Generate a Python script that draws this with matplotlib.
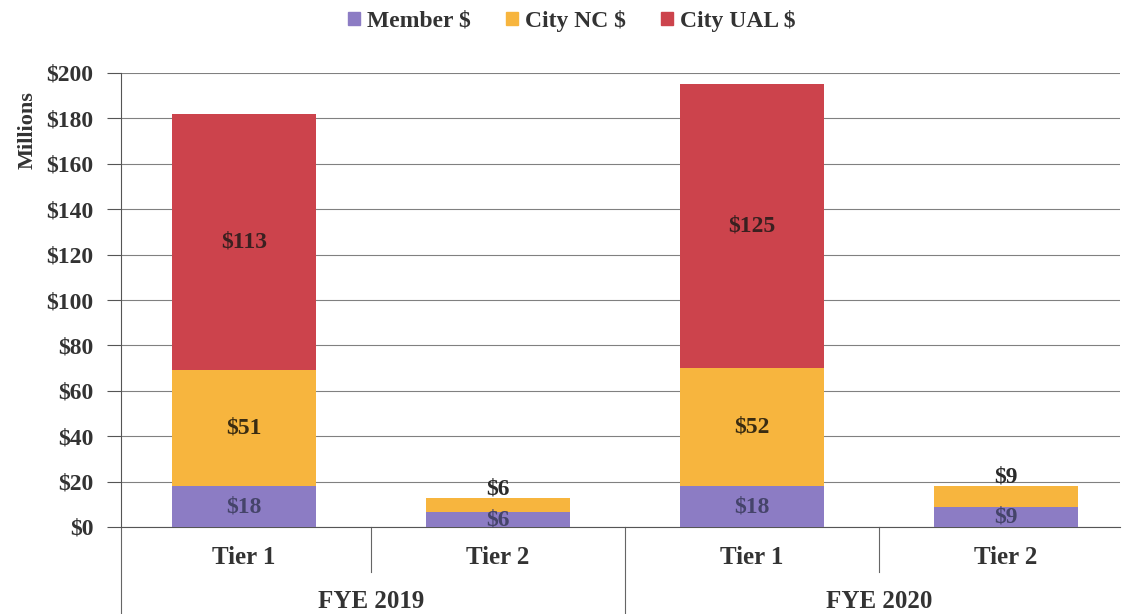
import matplotlib.pyplot as plt
import matplotlib.transforms as mtransforms
from matplotlib.patches import Patch

years = ["FYE 2019", "FYE 2020"]
tiers = ["Tier 1", "Tier 2", "Tier 1", "Tier 2"]
member = [18, 6.4, 18, 9]
city_nc = [51, 6.4, 52, 9]
city_ual = [113, 0, 125, 0]
member_lbl = ["$18", "$6", "$18", "$9"]
nc_lbl = ["$51", "$6", "$52", "$9"]
ual_lbl = ["$113", "", "$125", ""]

c_member = "#8c7cc4"
c_nc = "#f7b53e"
c_ual = "#cc434c"
txt = "#2b2b2b"

plt.rcParams["font.family"] = ["Liberation Serif", "DejaVu Serif"]
plt.rcParams["font.weight"] = "bold"

fig = plt.figure(figsize=(11.22, 6.14), dpi=100)
ax = fig.add_axes([121 / 1122, 87 / 614, (1120 - 121) / 1122, 454 / 614])

x = list(range(len(tiers)))
w = 0.567
bottom2 = [m + n for m, n in zip(member, city_nc)]
ax.bar(x, member, w, color=c_member, linewidth=0, zorder=3)
ax.bar(x, city_nc, w, bottom=member, color=c_nc, linewidth=0, zorder=3)
ax.bar(x, city_ual, w, bottom=bottom2, color=c_ual, linewidth=0, zorder=3)

for i in x:
    ax.text(i, member[i] / 2, member_lbl[i], ha="center", va="center",
            fontsize=17, fontweight="bold", color="#45446a", zorder=4)
    if city_ual[i] > 0:
        ax.text(i, member[i] + city_nc[i] / 2, nc_lbl[i], ha="center", va="center",
                fontsize=17, fontweight="bold", color="#3a2c12", zorder=4)
        ax.text(i, bottom2[i] + city_ual[i] / 2, ual_lbl[i], ha="center", va="center",
                fontsize=17, fontweight="bold", color="#3a2020", zorder=4)
    else:
        ax.text(i, bottom2[i] - 0.5, nc_lbl[i], ha="center", va="bottom",
                fontsize=17, fontweight="bold", color=txt, zorder=4)

ax.set_xlim(-0.484, 3.449)
ax.set_ylim(0, 200)
ax.set_yticks(range(0, 201, 20))
ax.set_yticklabels([f"${v}" for v in range(0, 201, 20)], fontsize=17,
                   fontweight="bold", color="#333333")
ax.tick_params(axis="y", direction="out", length=10, width=0.8, color="#555555", pad=10)
ax.set_xticks([])
ax.yaxis.grid(True, color="#808080", linewidth=0.8, zorder=0)
ax.set_ylabel("Millions", fontsize=16, fontweight="bold", color="#333333")
ax.yaxis.set_label_coords(-0.083, 0.874)

for s in ["top", "right"]:
    ax.spines[s].set_visible(False)
ax.spines["left"].set_color("#555555")
ax.spines["left"].set_linewidth(0.8)
ax.spines["bottom"].set_color("#555555")
ax.spines["bottom"].set_linewidth(0.8)

# two-level category axis
trans = mtransforms.blended_transform_factory(ax.transData, ax.transAxes)
for xs in [0.5, 2.5]:
    ax.plot([xs, xs], [0, -0.1], transform=trans, color="#666666", lw=0.8, clip_on=False)
for xs in [-0.484, 1.5]:
    ax.plot([xs, xs], [0, -0.2], transform=trans, color="#666666", lw=0.8, clip_on=False)
for i, t in enumerate(tiers):
    ax.text(i, -0.068, t, transform=trans, ha="center", va="center",
            fontsize=18, fontweight="bold", color="#333333")
for j, y in enumerate(years):
    ax.text(2 * j + 0.5, -0.164, y, transform=trans, ha="center", va="center",
            fontsize=18, fontweight="bold", color="#333333")

handles = [Patch(color=c_member), Patch(color=c_nc), Patch(color=c_ual)]
fig.legend(handles, ["Member $", "City NC $", "City UAL $"], loc="center",
           bbox_to_anchor=(572 / 1122, 1 - 21 / 614), ncol=3, frameon=False,
           prop={"size": 17, "weight": "bold"}, handlelength=0.5, handleheight=0.5,
           handletextpad=0.3, columnspacing=1.5, labelcolor="#333333")

fig.savefig("out.png", dpi=100)
